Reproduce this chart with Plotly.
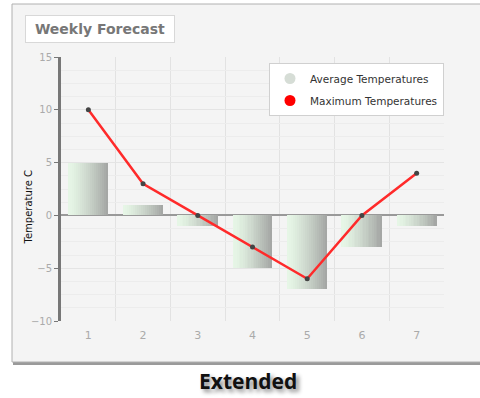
import plotly.graph_objects as go

days = [1, 2, 3, 4, 5, 6, 7]
avg_temps = [5, 1, -1, -5, -7, -3, -1]
max_temps = [10, 3, 0, -3, -6, 0, 4]
y_ticks = [-10, -5, 0, 5, 10, 15]

# plot area in pixels: x 61..444, y 57..321
W, H = 480, 398
L, R, T, B = 61, 36, 57, 77
pw, ph = W - L - R, H - T - B


def px(x):
    return (x - L) / pw


def py(y):
    return (H - B - y) / ph


def mix(c1, c2, t):
    return "rgb(%d,%d,%d)" % tuple(round(a + (b - a) * t) for a, b in zip(c1, c2))


fig = go.Figure()

# bars with a left-to-right gradient, drawn as thin slices
n = 20
bar_w = 0.73
light, dark = (230, 246, 230), (165, 167, 165)
for i in range(n):
    fig.add_trace(go.Bar(
        x=days, y=avg_temps, width=bar_w / n,
        offset=-bar_w / 2 + i * bar_w / n,
        marker=dict(color=mix(light, dark, (i / (n - 1)) ** 1.3), line=dict(width=0)),
        showlegend=False, hoverinfo="skip",
    ))

fig.add_trace(go.Scatter(
    x=days, y=max_temps, mode="lines+markers",
    line=dict(color="#ff2a2a", width=2.5),
    marker=dict(color="#444444", size=5),
    showlegend=False,
))

# legend entries
fig.add_trace(go.Scatter(x=[None], y=[None], mode="markers", name="Average Temperatures",
                         legendgroup="a", marker=dict(color="#d6ddd6", size=11)))
fig.add_trace(go.Scatter(x=[None], y=[None], mode="markers", name="Maximum Temperatures",
                         legendgroup="b", marker=dict(color="#ff0000", size=11)))

# panel with shadow
fig.add_shape(type="rect", xref="paper", yref="paper", layer="below",
              x0=px(13), x1=px(484), y0=py(365), y1=py(6),
              fillcolor="#9a9a9a", line=dict(width=0))
fig.add_shape(type="rect", xref="paper", yref="paper", layer="below",
              x0=px(12), x1=px(482), y0=py(362), y1=py(4),
              fillcolor="#f4f4f4", line=dict(color="#b0b0b0", width=1))

fig.add_annotation(text="Weekly Forecast", xref="paper", yref="paper",
                   x=px(25), y=py(15), xanchor="left", yanchor="top",
                   showarrow=False, width=146, height=24, align="center",
                   bgcolor="#ffffff", bordercolor="#d8d8d8", borderwidth=1, borderpad=1,
                   font=dict(family="DejaVu Sans", size=14, color="#777777", weight="bold"))

fig.add_annotation(text="Temperature C", xref="paper", yref="paper",
                   x=px(21), y=py(207), textangle=-90, showarrow=False,
                   font=dict(family="DejaVu Sans", size=10, color="#111111"))

fig.add_annotation(text="Extended", xref="paper", yref="paper",
                   x=px(248), y=py(397), xanchor="center", yanchor="bottom", showarrow=False,
                   font=dict(family="Open Sans", size=21, color="#111111", weight="bold",
                             shadow="3px 3px 4px #888888"))

fig.update_layout(
    width=W, height=H,
    margin=dict(l=L, r=R, t=T, b=B),
    paper_bgcolor="#ffffff",
    plot_bgcolor="#f6f6f6",
    barmode="overlay",
    bargap=0,
    font=dict(family="DejaVu Sans", size=10, color="#999999"),
    legend=dict(x=px(269), y=py(63), xanchor="left", yanchor="top",
                bgcolor="#ffffff", bordercolor="#d0d0d0", borderwidth=1,
                font=dict(size=10.5, color="#333333"), itemwidth=30,
                tracegroupgap=3),
    xaxis=dict(range=[0.5, 7.5], tickvals=days, ticks="", showgrid=False,
               showline=False, zeroline=False, fixedrange=True, ticklabelstandoff=6,
               minor=dict(tick0=0.5, dtick=1, showgrid=True, gridcolor="#e2e2e2", gridwidth=1),
               tickfont=dict(size=11, color="#aaaaaa")),
    yaxis=dict(range=[-10, 15], tickvals=y_ticks, ticks="outside", ticklen=4,
               tickcolor="#777777", showline=True, linecolor="#777777", linewidth=3,
               showgrid=True, gridcolor="#e4e4e4",
               minor=dict(dtick=1.25, showgrid=True, gridcolor="#ececec"),
               zeroline=True, zerolinecolor="#999999", zerolinewidth=2,
               tickfont=dict(size=10, color="#aaaaaa")),
)

fig.write_html("out.html", config={"displayModeBar": False},
               post_script="document.body.style.margin='0';")
